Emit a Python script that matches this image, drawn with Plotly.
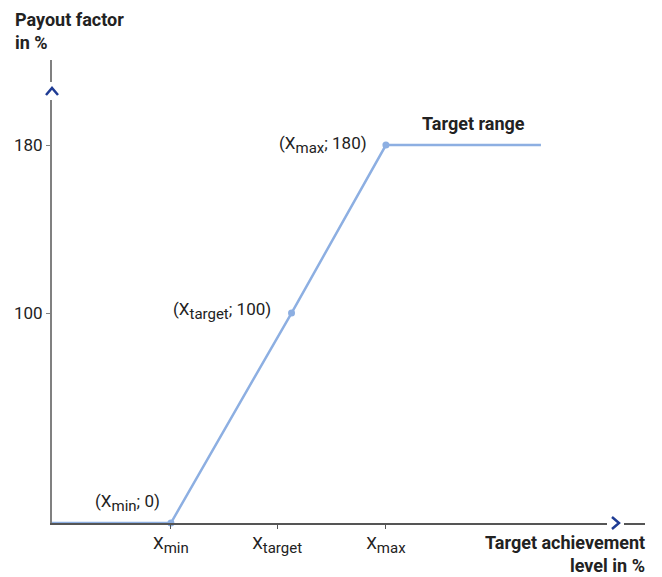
import plotly.graph_objects as go

# Data (x in arbitrary achievement units, y = payout factor in %)
line_x = [0, 55.3, 111.4, 155.3, 227.4]
line_y = [0, 0, 100, 180, 180]
point_x = [55.3, 111.4, 155.3]
point_y = [0, 100, 180]
point_subs = ["min", "target", "max"]
point_vals = ["0", "100", "180"]
x_tick_vals = [55.3, 104.7, 155.3]
x_tick_subs = ["min", "target", "max"]
y_tick_vals = [100, 180]
y_tick_text = ["100", "180"]

FONT = "Roboto"
FS = 17
FSB = 18
SUB_FS = 15
LINE_COL = "#8DAFE2"
ARROW_COL = "#1F3C94"
TEXT_COL = "#222222"

X_MAX = 275.8
Y_MAX = 220.5

# plot area in page pixels (page has 8px body margin)
OFF = 8
PL, PR, PT, PB = 52, 645, 60, 523
PW, PH = PR - PL, PB - PT
FIG_W, FIG_H = 662 - OFF, 577 - OFF


def px(xp):
    return (xp - PL) / PW


def py(yp):
    return (PB - yp) / PH


def xsub(s):
    return f"X<sub><span style='font-size:{SUB_FS}px'>{s}</span></sub>"


point_labels = [f"({xsub(s)}; {v})" for s, v in zip(point_subs, point_vals)]
x_tick_text = [xsub(s) for s in x_tick_subs]

fig = go.Figure()
fig.add_trace(go.Scatter(x=line_x, y=line_y, mode="lines",
                         line=dict(color=LINE_COL, width=2.5),
                         hoverinfo="skip", showlegend=False, cliponaxis=False))
fig.add_trace(go.Scatter(x=point_x, y=point_y, mode="markers",
                         marker=dict(color=LINE_COL, size=7),
                         hoverinfo="skip", showlegend=False, cliponaxis=False))

# point labels (page pixel anchors: right edge, vertical centre)
label_pos = [(162, 503), (273, 311), (369, 145)]
for (lx, ly), t in zip(label_pos, point_labels):
    fig.add_annotation(xref="paper", yref="paper", x=px(lx), y=py(ly), text=t,
                       showarrow=False, xanchor="right", yanchor="middle",
                       font=dict(family=FONT, size=FS, color=TEXT_COL))

fig.add_annotation(xref="paper", yref="paper", x=px(473), y=py(123),
                   text="<b>Target range</b>", showarrow=False,
                   xanchor="center", yanchor="middle",
                   font=dict(family=FONT, size=FSB, color=TEXT_COL))

fig.add_annotation(xref="paper", yref="paper", x=px(13), y=py(7),
                   text="<b>Payout factor<br>in %</b>", showarrow=False,
                   xanchor="left", yanchor="top", align="left",
                   font=dict(family=FONT, size=FSB, color=TEXT_COL))

# x-axis title, two single-line annotations to control spacing
fig.add_annotation(xref="paper", yref="paper", x=px(646), y=py(554),
                   text="<b>Target achievement</b>", showarrow=False,
                   xanchor="right", yanchor="bottom", borderpad=0,
                   font=dict(family=FONT, size=FSB, color=TEXT_COL))
fig.add_annotation(xref="paper", yref="paper", x=px(646), y=py(576.5),
                   text="<b>level in %</b>", showarrow=False,
                   xanchor="right", yanchor="bottom", borderpad=0,
                   font=dict(family=FONT, size=FSB, color=TEXT_COL))

shapes = []
# gap in y axis line + up chevron
shapes.append(dict(type="rect", xref="paper", yref="paper", x0=px(48), x1=px(56),
                   y0=py(100), y1=py(82), fillcolor="white", line=dict(width=0),
                   layer="above"))
shapes.append(dict(type="path", xref="paper", yref="paper",
                   path=f"M {px(46)},{py(95)} L {px(52)},{py(88)} L {px(58)},{py(95)}",
                   line=dict(color=ARROW_COL, width=2.5), layer="above"))
# gap in x axis line + right chevron
shapes.append(dict(type="rect", xref="paper", yref="paper", x0=px(607), x1=px(624),
                   y0=py(527), y1=py(519), fillcolor="white", line=dict(width=0),
                   layer="above"))
shapes.append(dict(type="path", xref="paper", yref="paper",
                   path=f"M {px(612)},{py(517)} L {px(619)},{py(523)} L {px(612)},{py(529)}",
                   line=dict(color=ARROW_COL, width=2.5), layer="above"))

fig.update_layout(
    width=FIG_W, height=FIG_H,
    margin=dict(l=PL - OFF, r=662 - PR, t=PT - OFF, b=577 - PB),
    plot_bgcolor="white", paper_bgcolor="white",
    shapes=shapes,
    xaxis=dict(range=[0, X_MAX], showgrid=False, zeroline=False,
               showline=True, linecolor="#555555", linewidth=1.5,
               tickmode="array", tickvals=x_tick_vals, ticktext=x_tick_text,
               ticks="outside", ticklen=4, tickwidth=1, tickcolor="#555555",
               tickfont=dict(family=FONT, size=FS, color=TEXT_COL), fixedrange=True,
               automargin=False),
    yaxis=dict(range=[0, Y_MAX], showgrid=False, zeroline=False,
               showline=True, linecolor="#808080", linewidth=2,
               tickmode="array", tickvals=y_tick_vals, ticktext=y_tick_text,
               ticks="outside", ticklen=4, tickwidth=1, tickcolor="#808080",
               tickfont=dict(family=FONT, size=FS, color=TEXT_COL), fixedrange=True,
               automargin=False),
)

fig.write_html("out.html")
